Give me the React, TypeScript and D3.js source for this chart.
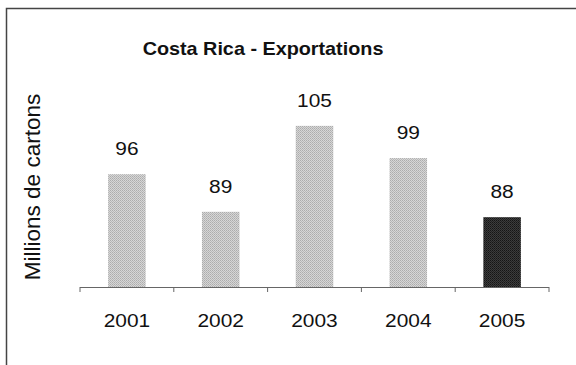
import React from "react";
import * as d3 from "d3";

const years = ["2001", "2002", "2003", "2004", "2005"];
const values = [96, 89, 105, 99, 88];
const highlighted = [false, false, false, false, true];
const title = "Costa Rica - Exportations";
const yTitle = "Millions de cartons";

const W = 576;
const H = 365;

export default function App() {
  const x = d3
    .scaleBand<string>()
    .domain(years)
    .range([80, 549])
    .paddingInner(0.6)
    .paddingOuter(0.3);
  const y = d3.scaleLinear().domain([75, 110]).range([287, 99]);
  const step = x.step();
  const bounds = d3.range(years.length + 1).map((i) => 80 + i * step);
  const font = "'Liberation Sans', Arial, sans-serif";
  const sx = 1.1;

  return (
    <svg
      width={W}
      height={H}
      style={{ position: "absolute", left: 0, top: 0, background: "#fff" }}
    >
      <defs>
        <pattern id="light" width="2" height="2" patternUnits="userSpaceOnUse">
          <rect width="2" height="2" fill="#d6d6d6" />
          <rect width="1" height="1" fill="#acacac" />
          <rect x="1" y="1" width="1" height="1" fill="#b8b8b8" />
        </pattern>
        <pattern id="dark" width="2" height="2" patternUnits="userSpaceOnUse">
          <rect width="2" height="2" fill="#3c3c3c" />
          <rect width="1" height="1" fill="#151515" />
          <rect x="1" y="1" width="1" height="1" fill="#222" />
        </pattern>
      </defs>
      <rect width={W} height={H} fill="#fff" />
      <path d={`M6.5,${H} V8.5 H${W}`} fill="none" stroke="#444" strokeWidth={1.5} />

      <text
        transform={`translate(263,55) scale(${sx},1)`}
        textAnchor="middle"
        fontFamily={font}
        fontWeight="bold"
        fontSize={18}
        fill="#111"
      >
        {title}
      </text>

      <text
        transform={`translate(40,187) rotate(-90)`}
        textAnchor="middle"
        fontFamily={font}
        fontSize={22.5}
        fill="#111"
      >
        {yTitle}
      </text>

      {years.map((yr, i) => (
        <rect
          key={yr}
          x={x(yr)}
          y={y(values[i])}
          width={x.bandwidth()}
          height={y(75) - y(values[i])}
          fill={highlighted[i] ? "url(#dark)" : "url(#light)"}
        />
      ))}

      {years.map((yr, i) => (
        <text
          key={"l" + yr}
          transform={`translate(${(x(yr) ?? 0) + x.bandwidth() / 2},${y(values[i]) - 19}) scale(${sx},1)`}
          textAnchor="middle"
          fontFamily={font}
          fontSize={19}
          fill="#111"
        >
          {values[i]}
        </text>
      ))}

      <line x1={80} x2={549} y1={287.5} y2={287.5} stroke="#666" strokeWidth={1} />
      {bounds.map((bx, i) => (
        <line key={"t" + i} x1={bx} x2={bx} y1={287} y2={292} stroke="#666" strokeWidth={1} />
      ))}

      {years.map((yr) => (
        <text
          key={"x" + yr}
          transform={`translate(${(x(yr) ?? 0) + x.bandwidth() / 2},327) scale(${sx},1)`}
          textAnchor="middle"
          fontFamily={font}
          fontSize={19}
          fill="#111"
        >
          {yr}
        </text>
      ))}
    </svg>
  );
}
